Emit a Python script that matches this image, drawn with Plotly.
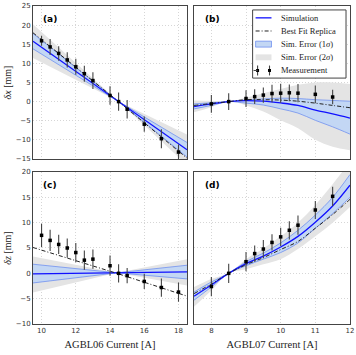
import plotly.graph_objects as go
from plotly.subplots import make_subplots

# ---- curve grids ----
XA_CURVE = [9.5, 14.5, 18.5]          # AGBL06 scan, delta x
XC_CURVE = [9.5, 14.4, 18.5]          # AGBL06 scan, delta z
XB_CURVE = [7.5, 8, 8.5, 9, 9.5, 10, 10.5, 11, 11.5, 12]   # AGBL07 scan

# (a) AGBL06 -> dx
sim_a = [15.8, 0.0, -12.6]
fit_a = [18.0, 0.0, -14.8]
s1_up_a = [17.8, 0.0, -10.7]
s1_lo_a = [13.8, 0.0, -14.5]
s2_up_a = [20.2, 0.0, -8.6]
s2_lo_a = [11.4, 0.0, -16.6]

# (c) AGBL06 -> dz
sim_c = [-0.1, 0.1, 0.3]
fit_c = [5.1, 0.0, -4.5]
s1_up_c = [1.8, 0.1, 1.6]
s1_lo_c = [-1.9, 0.1, -1.1]
s2_up_c = [3.3, 0.1, 2.8]
s2_lo_c = [-3.8, 0.1, -2.4]

# (b) AGBL07 -> dx
sim_b = [-1.3, -0.6, 0.0, 0.25, 0.1, -0.35, -1.0, -2.2, -3.2, -4.3]
fit_b = [-1.0, -0.5, 0.0, 0.5, 0.5, 0.4, 0.1, -0.4, -1.0, -1.6]
s1_up_b = [-0.6, -0.3, 0.0, 0.4, 0.7, 0.9, 0.8, 0.5, 0.3, 0.1]
s1_lo_b = [-1.9, -1.0, 0.0, -0.4, -0.9, -1.9, -3.0, -4.9, -6.6, -8.5]
s2_up_b = [0.3, 0.2, 0.0, 1.0, 2.2, 3.3, 4.4, 5.0, 5.0, 4.6]
s2_lo_b = [-2.8, -1.5, 0.0, -1.0, -2.6, -4.9, -7.0, -10.0, -11.8, -12.7]

# (d) AGBL07 -> dz
sim_d = [-4.5, -2.3, 0.0, 1.9, 3.4, 5.2, 7.3, 10.1, 13.3, 17.4]
fit_d = [-4.0, -2.1, 0.0, 1.7, 3.1, 4.7, 6.3, 8.9, 11.6, 14.6]
s1_up_d = [-3.7, -1.7, 0.0, 2.3, 4.0, 6.0, 8.5, 11.5, 15.0, 19.5]
s1_lo_d = [-5.3, -2.7, 0.0, 1.5, 2.8, 4.1, 6.0, 8.9, 11.8, 15.0]
s2_up_d = [-2.7, -1.1, 0.0, 2.8, 4.9, 7.3, 10.0, 13.5, 17.6, 22.0]
s2_lo_d = [-6.6, -3.4, 0.0, 0.8, 1.8, 2.8, 4.8, 7.3, 10.0, 13.1]

# ---- measurements ----
XA_MEAS = [10, 10.5, 11, 11.5, 12, 12.5, 13, 14, 14.5, 15, 16, 17, 18]
dx_a = [15.9, 14.3, 12.6, 10.9, 9.1, 7.3, 5.5, 1.6, 0.0, -2.0, -5.9, -9.7, -13.2]
ex_a = [1.3, 2.1, 1.9, 2.0, 2.1, 2.1, 2.2, 2.4, 2.4, 2.4, 2.0, 2.5, 2.0]
dz_c = [7.5, 6.5, 5.7, 5.0, 4.1, 2.6, 2.8, 1.5, 0.0, -0.45, -1.6, -2.8, -3.7]
ez_c = [2.3, 2.1, 1.9, 1.9, 1.9, 1.9, 1.9, 2.0, 1.8, 1.5, 1.5, 1.8, 1.9]

XB_MEAS = [8, 8.5, 9, 9.25, 9.5, 9.75, 10, 10.25, 10.5, 11, 11.5]
dx_b = [-0.6, 0.0, 0.8, 1.3, 1.7, 2.1, 2.2, 2.3, 2.2, 1.9, 1.2]
ex_b = [2.3, 2.2, 2.2, 1.9, 2.0, 2.3, 2.5, 2.2, 2.4, 2.3, 1.9]
dz_d = [-2.6, 0.0, 2.3, 3.9, 4.8, 6.1, 7.2, 8.5, 9.5, 12.5, 15.2]
ez_d = [1.9, 1.9, 1.9, 1.6, 1.8, 1.6, 1.8, 1.8, 1.9, 1.8, 1.9]

LEGEND_LABELS = ["Simulation", "Best Fit Replica", "Sim. Error (1<i>σ</i>)",
                 "Sim. Error (2<i>σ</i>)", "Measurement"]

BLUE = "#1010ff"
BAND1 = "#c3d7f4"
BAND1_EDGE = "#7090f0"
BAND2 = "#e4e4e4"
SERIF = "Liberation Serif"
SANS = "DejaVu Sans"

W, H = 356, 355
ML, MR, MT, MB = 33, 4, 2, 31


def px(x):
    return (x - ML) / (W - ML - MR)


def py(y):
    return (H - MB - y) / (H - MT - MB)


fig = make_subplots(rows=2, cols=2)

panels = [
    (1, 1, XA_CURVE, sim_a, fit_a, s1_up_a, s1_lo_a, s2_up_a, s2_lo_a, XA_MEAS, dx_a, ex_a),
    (1, 2, XB_CURVE, sim_b, fit_b, s1_up_b, s1_lo_b, s2_up_b, s2_lo_b, XB_MEAS, dx_b, ex_b),
    (2, 1, XC_CURVE, sim_c, fit_c, s1_up_c, s1_lo_c, s2_up_c, s2_lo_c, XA_MEAS, dz_c, ez_c),
    (2, 2, XB_CURVE, sim_d, fit_d, s1_up_d, s1_lo_d, s2_up_d, s2_lo_d, XB_MEAS, dz_d, ez_d),
]

for r, c, xc, sim, fit, u1, l1, u2, l2, xm, ym, em in panels:
    shape = "spline" if len(xc) > 3 else "linear"
    # 2 sigma band
    fig.add_trace(go.Scatter(x=xc, y=l2, mode="lines", line=dict(width=0, shape=shape),
                             showlegend=False, hoverinfo="skip"), row=r, col=c)
    fig.add_trace(go.Scatter(x=xc, y=u2, mode="lines", line=dict(width=0, shape=shape),
                             fill="tonexty", fillcolor=BAND2, showlegend=False,
                             hoverinfo="skip"), row=r, col=c)
    # 1 sigma band
    fig.add_trace(go.Scatter(x=xc, y=l1, mode="lines",
                             line=dict(width=0.8, color=BAND1_EDGE, shape=shape),
                             showlegend=False, hoverinfo="skip"), row=r, col=c)
    fig.add_trace(go.Scatter(x=xc, y=u1, mode="lines",
                             line=dict(width=0.8, color=BAND1_EDGE, shape=shape),
                             fill="tonexty", fillcolor=BAND1, showlegend=False,
                             hoverinfo="skip"), row=r, col=c)
    fig.add_trace(go.Scatter(x=xc, y=sim, mode="lines",
                             line=dict(width=1.3, color=BLUE, shape=shape),
                             showlegend=False), row=r, col=c)
    fig.add_trace(go.Scatter(x=xc, y=fit, mode="lines",
                             line=dict(width=1, color="#222", dash="4px,2px,1px,2px", shape=shape),
                             showlegend=False), row=r, col=c)
    fig.add_trace(go.Scatter(x=xm, y=ym, mode="markers",
                             marker=dict(symbol="square", size=3.5, color="black"),
                             error_y=dict(type="data", array=em, color="#444",
                                          thickness=1.1, width=0),
                             showlegend=False), row=r, col=c)

axis_common = dict(showline=True, mirror=True, linecolor="#444", linewidth=1,
                   showgrid=True, gridcolor="#d6d6d6", griddash="1px,2px", gridwidth=0.8,
                   zeroline=False, ticks="", ticklabeloverflow="allow",
                   tickfont=dict(family=SANS, size=7, color="#333"))

fig.update_layout(
    xaxis=dict(domain=[0, 0.486], range=[9.5, 18.5], dtick=2, tick0=10,
               showticklabels=False, **axis_common),
    xaxis2=dict(domain=[0.508, 1], range=[7.5, 12.001], dtick=1,
                showticklabels=False, **axis_common),
    xaxis3=dict(domain=[0, 0.486], range=[9.5, 18.5], dtick=2, tick0=10,
                title=dict(text="AGBL06 Current [A]", standoff=6,
                           font=dict(family=SERIF, size=10.5, color="#222")),
                **axis_common),
    xaxis4=dict(domain=[0.508, 1], range=[7.5, 12.001], dtick=1,
                title=dict(text="AGBL07 Current [A]", standoff=6,
                           font=dict(family=SERIF, size=10.5, color="#222")),
                **axis_common),
    yaxis=dict(domain=[0.519, 1], range=[-15, 25], dtick=5,
               title=dict(text="<i>δx</i> [mm]", standoff=2,
                          font=dict(family=SERIF, size=10, color="#222")),
               **axis_common),
    yaxis2=dict(domain=[0.519, 1], range=[-15, 25], dtick=5,
                showticklabels=False, **axis_common),
    yaxis3=dict(domain=[0, 0.478], range=[-10, 20], dtick=5,
                title=dict(text="<i>δz</i> [mm]", standoff=2,
                           font=dict(family=SERIF, size=10, color="#222")),
                **axis_common),
    yaxis4=dict(domain=[0, 0.478], range=[-10, 20], dtick=5,
                showticklabels=False, **axis_common),
)

# panel labels
for lab, x, y in [("(a)", 41, 15), ("(b)", 204, 15), ("(c)", 41, 183), ("(d)", 204, 183)]:
    fig.add_annotation(x=px(x), y=py(y), xref="paper", yref="paper", text="<b>%s</b>" % lab,
                       showarrow=False, xanchor="left", yanchor="middle",
                       font=dict(family=SANS, size=9, color="black"))

# hand-built legend box inside panel (b)
shapes = [dict(type="rect", xref="paper", yref="paper", x0=px(254), x1=px(348),
               y0=py(75), y1=py(6), line=dict(color="#444", width=1), fillcolor="white")]
rows_y = [14, 27.3, 40.6, 54, 67.3]
sx0, sx1 = 257, 273
shapes.append(dict(type="line", xref="paper", yref="paper", x0=px(sx0), x1=px(sx1),
                   y0=py(rows_y[0]), y1=py(rows_y[0]), line=dict(color=BLUE, width=1.3)))
shapes.append(dict(type="line", xref="paper", yref="paper", x0=px(sx0), x1=px(sx1),
                   y0=py(rows_y[1]), y1=py(rows_y[1]),
                   line=dict(color="#222", width=1, dash="4px,2px,1px,2px")))
shapes.append(dict(type="rect", xref="paper", yref="paper", x0=px(sx0), x1=px(sx1),
                   y0=py(rows_y[2] + 3), y1=py(rows_y[2] - 3),
                   line=dict(color=BAND1_EDGE, width=0.8), fillcolor=BAND1))
shapes.append(dict(type="rect", xref="paper", yref="paper", x0=px(sx0), x1=px(sx1),
                   y0=py(rows_y[3] + 3), y1=py(rows_y[3] - 3),
                   line=dict(width=0), fillcolor=BAND2))
for mx in (259, 271):
    shapes.append(dict(type="line", xref="paper", yref="paper", x0=px(mx), x1=px(mx),
                       y0=py(rows_y[4] + 5), y1=py(rows_y[4] - 5),
                       line=dict(color="#444", width=1.1)))
    shapes.append(dict(type="rect", xref="paper", yref="paper", x0=px(mx - 1.5), x1=px(mx + 1.5),
                       y0=py(rows_y[4] + 1.5), y1=py(rows_y[4] - 1.5),
                       line=dict(width=0), fillcolor="black"))
shapes.append(dict(type="line", xref="paper", yref="paper", x0=px(sx0 - 2), x1=px(259),
                   y0=py(rows_y[4]), y1=py(rows_y[4]), line=dict(color="#444", width=1)))
fig.update_layout(shapes=shapes)

for lab, y in zip(LEGEND_LABELS, rows_y):
    fig.add_annotation(x=px(281), y=py(y), xref="paper", yref="paper", text=lab,
                       showarrow=False, xanchor="left", yanchor="middle",
                       font=dict(family=SERIF, size=8.5, color="#222"))

fig.update_layout(
    width=W, height=H,
    margin=dict(l=ML, r=MR, t=MT, b=MB),
    plot_bgcolor="white", paper_bgcolor="white",
    showlegend=False,
)

# the page body has a default 8px margin; drop it so the figure sits at the corner
fig.write_html("out.html", config={"displayModeBar": False},
               post_script="document.body.style.margin='0';")
